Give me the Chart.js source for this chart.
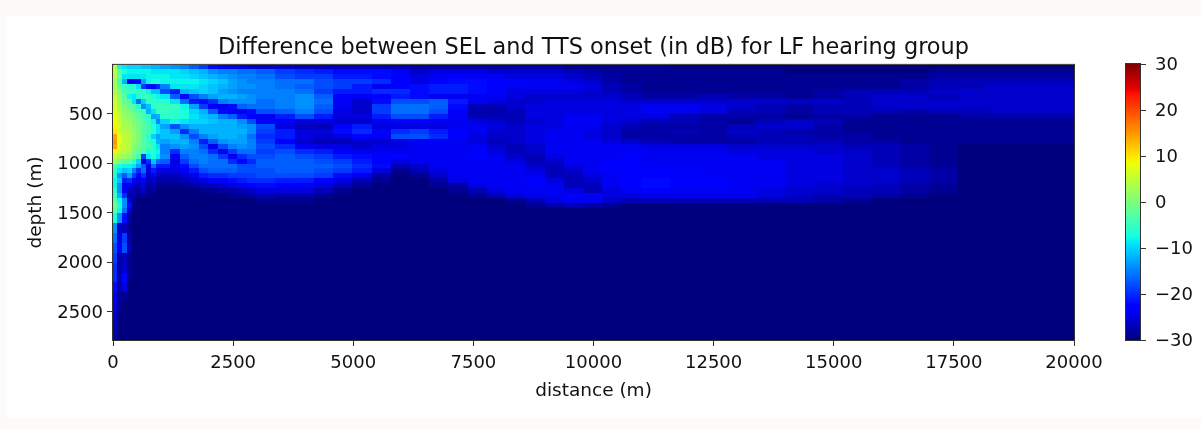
<!DOCTYPE html>
<html>
<head>
<meta charset="utf-8">
<script src="https://cdn.jsdelivr.net/npm/chart.js@4"></script>
<style>
  html, body { margin: 0; background: #fcfbf9; }
  #sheet { position: absolute; left: 6px; top: 16px; width: 1195px; height: 401px; background: #fff; }
  canvas { position: absolute; top: 0; }
</style>
</head>
<body>
<div id="sheet"></div>
<canvas id="mainChart" width="1187" height="429" style="left:0"></canvas>
<canvas id="barChart" width="91" height="429" style="left:1110px"></canvas>
<script>
// Cell edges, in metres. Columns get wider with range, rows get wider below 1510 m
const distEdges = [0,100,200,300,400,500,600,700,800,900,1000,1200,1400,1600,1800,2000,2200,2400,2600,2800,3000,
  3400,3800,4200,4600,5000,5400,5800,6200,6600,7000,7400,7800,8200,8600,9000,9400,9800,10200,10600,11000,
  11600,12200,12800,13400,14000,14600,15200,15800,16400,17000,17600,18200,18800,19400,20000];
const depthEdges = [10,60,110,160,210,260,310,360,410,460,510,560,610,660,710,760,810,860,910,960,1010,
  1060,1110,1160,1210,1260,1310,1360,1410,1460,1510,1610,1710,1810,1910,2010,2110,2210,2310,2410,2510,2610,2710,2785];
const distTicks = [0,2500,5000,7500,10000,12500,15000,17500,20000];
const depthTicks = [500,1000,1500,2000,2500];
const barTicks = [-30,-20,-10,0,10,20,30];

// Difference in dB, one list per depth row. Anything past the end of a list is the -30 floor
const row035 = [4,-8,-9,-10,-10,-10,-11,-11,-12,-12,-13,-14,-15,-17,-19,-22,-24,-25,-25,-26,-26,-26,-27,-27,-27,-27,-27,-27,-28,-28,-28,-28,-28,-28,-28,-28,-29,-29,-29,-29,-29];
const row085 = [5,-3,-7,-8,-8,-8,-8,-8,-9,-9,-9,-9,-10,-11,-12,-14,-15,-15,-16,-16,-17,-19,-20,-21,-22,-22,-22,-24,-26,-25,-25,-25,-26,-26,-26,-26,-27,-28,-29,-29,-29,-29,-29,-29,-29,-30,-30,-30,-30,-30,-29,-29,-29,-29,-29];
const row135 = [3,-2,-9,-9,-9,-9,-9,-8,-8,-8,-8,-9,-9,-10,-11,-12,-13,-14,-15,-15,-16,-18,-19,-19,-21,-21,-22,-23,-25,-24,-23,-24,-24,-25,-25,-25,-26,-27,-28,-29,-29,-29,-29,-29,-29,-29,-29,-29,-29,-29,-28,-28,-28,-28,-28];
const row185 = [2,-4,-12,-24,-24,-22,-13,-8,-7,-7,-8,-8,-8,-8,-9,-10,-11,-13,-14,-15,-15,-16,-16,-18,-19,-19,-20,-23,-25,-23,-22,-22,-23,-23,-24,-24,-25,-26,-28,-29,-29,-29,-29,-29,-29,-29,-29,-29,-29,-28,-27,-27,-27,-27,-27];
const row235 = [3,-2,-5,-6,-7,-9,-19,-22,-22,-20,-15,-9,-9,-9,-10,-11,-12,-13,-14,-14,-15,-16,-17,-18,-19,-21,-24,-23,-22,-21,-21,-22,-23,-24,-24,-24,-24,-25,-27,-28,-29,-29,-29,-29,-29,-29,-29,-29,-29,-28,-27,-27,-26,-26,-26];
const row285 = [3,0,-4,-5,-5,-5,-6,-8,-11,-11,-18,-21,-12,-11,-10,-11,-13,-14,-15,-15,-15,-15,-16,-19,-21,-21,-20,-20,-22,-21,-21,-22,-23,-25,-25,-25,-25,-26,-27,-28,-29,-29,-29,-29,-29,-29,-28,-27,-27,-27,-26,-26,-26,-26,-26];
const row335 = [5,1,-3,-8,-9,-7,-5,-5,-7,-8,-9,-17,-22,-18,-15,-13,-12,-12,-13,-14,-15,-15,-14,-17,-23,-24,-23,-21,-22,-24,-24,-24,-24,-25,-26,-26,-26,-26,-26,-27,-28,-28,-27,-28,-28,-29,-28,-27,-26,-26,-27,-26,-26,-26,-26];
const row385 = [6,2,-2,-3,-9,-16,-10,-6,-5,-6,-6,-9,-16,-21,-22,-20,-15,-14,-14,-14,-16,-15,-14,-16,-24,-26,-22,-18,-18,-17,-21,-24,-25,-26,-26,-25,-25,-25,-25,-26,-26,-26,-26,-26,-26,-26,-26,-27,-26,-26,-26,-26,-26,-26,-26];
const row435 = [6,3,0,-2,-3,-6,-14,-11,-6,-5,-5,-5,-8,-13,-19,-23,-24,-22,-17,-16,-16,-15,-14,-17,-24,-26,-19,-16,-16,-17,-22,-27,-27,-26,-25,-25,-25,-25,-25,-25,-24,-24,-25,-26,-27,-28,-27,-27,-26,-26,-26,-26,-26,-26,-26];
const row485 = [7,4,1,0,-2,-3,-5,-12,-9,-5,-5,-6,-7,-10,-12,-17,-22,-24,-24,-22,-18,-17,-15,-18,-25,-26,-19,-16,-16,-18,-23,-28,-28,-27,-25,-25,-25,-25,-25,-25,-24,-24,-25,-27,-27,-28,-27,-27,-27,-28,-27,-27,-26,-26,-26];
const row535 = [8,5,2,1,0,-2,-4,-6,-13,-12,-6,-6,-7,-9,-11,-12,-15,-17,-21,-23,-24,-21,-18,-21,-25,-25,-21,-18,-18,-21,-24,-27,-27,-27,-25,-25,-24,-24,-25,-25,-25,-27,-28,-28,-28,-29,-28,-28,-29,-29,-29,-28,-28,-28,-28];
const row585 = [8,5,3,2,0,-1,-3,-5,-8,-15,-10,-8,-9,-10,-10,-11,-12,-12,-14,-18,-23,-24,-25,-25,-26,-26,-24,-23,-23,-24,-24,-25,-26,-27,-26,-25,-24,-24,-25,-26,-27,-27,-28,-29,-27,-26,-27,-29,-29,-29,-29,-29,-29,-29,-29];
const row635 = [9,6,3,3,1,-1,-3,-4,-7,-9,-13,-18,-14,-12,-12,-12,-12,-12,-13,-14,-18,-25,-27,-27,-23,-21,-25,-25,-25,-25,-24,-24,-25,-26,-25,-25,-24,-24,-26,-27,-28,-28,-28,-27,-26,-26,-28,-29,-29,-29,-29,-29,-29,-29,-29];
const row685 = [10,6,4,3,2,0,-3,-4,-6,-9,-11,-13,-20,-15,-12,-12,-12,-12,-12,-14,-19,-21,-25,-25,-22,-20,-23,-20,-19,-21,-23,-24,-26,-26,-25,-24,-24,-25,-26,-28,-28,-27,-28,-26,-27,-28,-28,-29,-29,-29,-29,-29,-29,-29,-29];
const row735 = [14,7,5,4,2,0,-3,-6,-10,-13,-11,-11,-14,-18,-15,-13,-12,-12,-13,-16,-20,-21,-25,-26,-25,-23,-24,-18,-18,-20,-23,-25,-26,-26,-25,-24,-24,-25,-26,-28,-28,-28,-28,-27,-27,-27,-28,-28,-29,-29,-29,-29,-29,-29,-29];
const row785 = [15,8,5,4,2,0,-3,-5,-7,-12,-13,-12,-12,-15,-21,-17,-14,-13,-13,-15,-19,-23,-26,-27,-27,-26,-26,-25,-24,-24,-24,-25,-27,-26,-25,-24,-24,-24,-25,-26,-27,-28,-28,-28,-27,-27,-27,-28,-28,-29,-29,-29,-29,-29,-29];
const row835 = [14,7,5,4,1,-1,-3,-4,-6,-9,-15,-14,-13,-14,-18,-24,-18,-15,-14,-15,-18,-20,-24,-25,-25,-26,-25,-25,-24,-24,-24,-24,-26,-27,-26,-24,-24,-24,-24,-24,-25,-25,-25,-26,-26,-26,-26,-27,-27,-28,-29];
const row885 = [9,6,4,3,0,-2,-4,-7,-6,-8,-15,-20,-15,-15,-16,-20,-24,-19,-16,-16,-19,-18,-20,-21,-23,-24,-24,-24,-24,-24,-24,-23,-25,-27,-26,-24,-24,-24,-24,-24,-24,-24,-24,-25,-25,-25,-26,-26,-27,-28,-29];
const row935 = [5,3,2,1,-1,-4,-19,-9,-7,-9,-14,-24,-17,-15,-15,-16,-19,-24,-20,-18,-18,-17,-18,-19,-21,-22,-23,-23,-24,-24,-24,-23,-24,-26,-27,-25,-24,-24,-24,-23,-24,-24,-24,-24,-25,-25,-25,-26,-27,-28,-29];
const row985 = [3,-1,-2,-3,-5,-10,-25,-20,-11,-16,-17,-25,-19,-16,-15,-16,-16,-20,-23,-20,-17,-17,-17,-18,-19,-21,-23,-25,-24,-24,-24,-24,-24,-25,-27,-26,-24,-24,-23,-23,-24,-24,-24,-24,-24,-25,-25,-26,-27,-28,-29];
const row1035 = [-4,-7,-8,-8,-9,-13,-17,-24,-16,-21,-21,-24,-22,-18,-16,-16,-16,-16,-18,-18,-17,-17,-17,-17,-18,-20,-22,-27,-26,-24,-24,-24,-24,-24,-26,-27,-25,-24,-23,-23,-24,-24,-24,-24,-24,-25,-25,-26,-27,-28,-29];
const row1085 = [-6,-9,-11,-10,-15,-20,-16,-25,-21,-25,-25,-25,-23,-21,-18,-17,-17,-17,-18,-18,-18,-17,-17,-18,-19,-21,-25,-29,-27,-25,-24,-24,-24,-24,-25,-27,-26,-24,-23,-23,-23,-23,-24,-24,-24,-25,-25,-26,-26,-27,-28];
const row1135 = [-7,-14,-17,-13,-19,-23,-20,-26,-24,-27,-27,-27,-26,-24,-21,-20,-20,-19,-19,-19,-18,-18,-18,-19,-22,-24,-28,-30,-29,-26,-24,-24,-24,-24,-24,-27,-27,-25,-24,-23,-23,-24,-24,-24,-24,-25,-25,-26,-26,-27,-28];
const row1185 = [-8,-11,-21,-20,-24,-25,-23,-27,-26,-28,-28,-28,-27,-26,-25,-23,-23,-22,-21,-20,-20,-21,-21,-23,-25,-27,-29,-30,-30,-28,-25,-24,-24,-24,-23,-25,-27,-26,-24,-23,-22,-23,-23,-24,-24,-25,-25,-26,-26,-27,-28];
const row1235 = [-8,-14,-24,-24,-26,-27,-25,-28,-27,-29,-29,-29,-29,-28,-27,-27,-26,-25,-24,-23,-22,-23,-24,-25,-27,-29,-30,-30,-30,-29,-28,-25,-24,-24,-23,-24,-27,-27,-24,-23,-22,-23,-23,-24,-24,-25,-26,-26,-27,-28,-29];
const row1285 = [-6,-14,-24,-26,-27,-28,-26,-29,-28,-30,-30,-30,-30,-30,-29,-29,-28,-28,-27,-26,-25,-25,-25,-27,-29,-30,-30,-30,-30,-30,-29,-27,-25,-24,-24,-24,-25,-27,-25,-24,-23,-24,-24,-24,-25,-26,-26,-27,-27,-28,-29];
const row1335 = [-5,-12,-20,-28,-27,-29,-28,-30,-30,-30,-30,-30,-30,-30,-30,-30,-30,-29,-29,-28,-27,-28,-28,-29,-30,-30,-30,-30,-30,-30,-30,-29,-27,-25,-24,-24,-23,-24,-25,-25,-24,-24,-24,-24,-25,-26,-27,-27,-28,-29,-30];
const row1385 = [-3,-8,-14,-25,-29,-30,-30,-30,-30,-30,-30,-30,-30,-30,-30,-30,-30,-30,-30,-30,-29,-29,-29,-30,-30,-30,-30,-30,-30,-30,-30,-30,-30,-29,-27,-25,-24,-24,-26,-27,-27,-27,-27,-27,-27,-27,-28,-29];
const row1435 = [-1,-7,-14,-22,-29,-30,-30,-30,-30,-30,-30,-30,-30,-30,-30,-30,-30,-30,-30,-30,-30,-30,-30,-30,-30,-30,-30,-30,-30,-30,-30,-30,-30,-30,-29,-28,-27,-28,-29];
const row1485 = [-3,-8,-16,-25];
const row1560 = [-7,-14,-22,-28];
const row1660 = [-14,-26,-27,-29];
const row1760 = [-16,-25,-19,-28];
const row1860 = [-18,-24,-18,-27];
const row1960 = [-19,-28,-27,-29];
const row2060 = [-20,-28,-26,-29];
const row2160 = [-20,-27,-23,-29];
const row2260 = [-22,-28,-25];
const row2360 = [-24,-29,-29];
const row2460 = [-25,-29];
const row2560 = [-26];
const row2660 = [-27];
const row2750 = [-28];
const depthRows = [row035,row085,row135,row185,row235,row285,row335,row385,row435,row485,row535,row585,row635,row685,row735,
  row785,row835,row885,row935,row985,row1035,row1085,row1135,row1185,row1235,row1285,row1335,row1385,row1435,row1485,
  row1560,row1660,row1760,row1860,row1960,row2060,row2160,row2260,row2360,row2460,row2560,row2660,row2750];

// jet colormap
const jetPos = [0,.11,.125,.34,.35,.375,.64,.65,.66,.89,.91,1];
const jetRgb = [[0,0,127],[0,0,255],[0,0,255],[0,219,255],[0,230,247],[20,255,226],[239,255,8],[247,245,0],[255,236,0],[255,19,0],[232,0,0],[127,0,0]];
const vMin = -30, vMax = 30;

function jet(v) {
    const t = Math.min(1, Math.max(0, (v - vMin) / (vMax - vMin)));
    let i = 0;
    while (i < jetPos.length - 2 && t > jetPos[i + 1]) i++;
    const f = (t - jetPos[i]) / (jetPos[i + 1] - jetPos[i]);
    const c = jetRgb[i].map((a, k) => Math.round(a + (jetRgb[i + 1][k] - a) * f));
    return `rgb(${c[0]},${c[1]},${c[2]})`;
}

// Each cell is a scatter point whose point style is a small filled canvas the size of the cell
const cellCache = {};
function cellStyle(color, w, h) {
    const key = color + w + 'x' + h;
    if (!cellCache[key]) {
        const c = document.createElement('canvas');
        c.width = w;
        c.height = h;
        const g = c.getContext('2d');
        g.fillStyle = color;
        g.fillRect(0, 0, w, h);
        cellCache[key] = c;
    }
    return cellCache[key];
}

const cells = [];
depthRows.forEach((row, r) => {
    for (let c = 0; c < distEdges.length - 1; c++) {
        cells.push({
            x: (distEdges[c] + distEdges[c + 1]) / 2,
            y: (depthEdges[r] + depthEdges[r + 1]) / 2,
            v: c < row.length ? row[c] : vMin,
            col: c,
            row: r
        });
    }
});

const frame = {
    id: 'frame',
    afterDraw(chart) {
        const a = chart.chartArea, g = chart.ctx;
        g.save();
        g.strokeStyle = '#333';
        g.lineWidth = 1;
        g.strokeRect(a.left - 0.5, a.top - 0.5, a.width + 1, a.height + 1);
        g.restore();
    }
};

const tickFont = { family: 'DejaVu Sans', size: 18 };
const labelFont = { family: 'DejaVu Sans', size: 18.5 };
const axisGrid = { drawOnChartArea: false, color: '#333', tickLength: 6, tickWidth: 1 };

new Chart(document.getElementById('mainChart'), {
    type: 'scatter',
    data: {
        datasets: [{
            data: cells,
            pointRadius: 5,
            clip: 0,
            pointStyle(ctx) {
                const d = ctx.raw, xs = ctx.chart.scales.x, ys = ctx.chart.scales.y;
                const w = xs.getPixelForValue(distEdges[d.col + 1]) - xs.getPixelForValue(distEdges[d.col]);
                const h = ys.getPixelForValue(depthEdges[d.row + 1]) - ys.getPixelForValue(depthEdges[d.row]);
                return cellStyle(jet(d.v), Math.ceil(w) + 1, Math.ceil(h) + 1);
            }
        }]
    },
    plugins: [frame],
    options: {
        responsive: false,
        animation: false,
        events: [],
        layout: { padding: { right: 113 } },
        plugins: {
            legend: { display: false },
            tooltip: { enabled: false },
            title: {
                display: true,
                fullSize: false,
                text: 'Difference between SEL and TTS onset (in dB) for LF hearing group',
                color: '#111',
                font: { family: 'DejaVu Sans', size: 22.4, weight: 'normal' },
                padding: { top: 35, bottom: 3 }
            }
        },
        scales: {
            x: {
                type: 'linear',
                min: 0,
                max: 20000,
                grid: axisGrid,
                border: { color: '#333' },
                afterBuildTicks: s => { s.ticks = distTicks.map(v => ({ value: v })); },
                afterFit: s => { s.height = 89; },
                ticks: { color: '#111', font: tickFont, padding: 7, maxRotation: 0, autoSkip: false, callback: v => String(v) },
                title: { display: true, text: 'distance (m)', color: '#111', font: labelFont, padding: { top: 0, bottom: 27 } }
            },
            y: {
                type: 'linear',
                reverse: true,
                min: 10,
                max: 2785,
                grid: axisGrid,
                border: { color: '#333' },
                afterBuildTicks: s => { s.ticks = depthTicks.map(v => ({ value: v })); },
                afterFit: s => { s.width = 113; },
                ticks: { color: '#111', font: tickFont, padding: 4, labelOffset: 1.5, autoSkip: false, callback: v => String(v) },
                title: { display: true, text: 'depth (m)', color: '#111', font: labelFont, padding: { top: 25, bottom: 0 } }
            }
        }
    }
});

new Chart(document.getElementById('barChart'), {
    type: 'bar',
    data: {
        labels: [''],
        datasets: [{
            data: [[vMin, vMax]],
            barPercentage: 1,
            categoryPercentage: 1,
            backgroundColor(ctx) {
                const a = ctx.chart.chartArea;
                if (!a) return '#000';
                const grad = ctx.chart.ctx.createLinearGradient(0, a.bottom, 0, a.top);
                jetPos.forEach((p, i) => grad.addColorStop(p, `rgb(${jetRgb[i].join(',')})`));
                return grad;
            }
        }]
    },
    plugins: [frame],
    options: {
        responsive: false,
        animation: false,
        events: [],
        layout: { padding: { left: 16, top: 64, bottom: 89 } },
        plugins: { legend: { display: false }, tooltip: { enabled: false } },
        scales: {
            x: { display: false },
            y: {
                position: 'right',
                min: vMin,
                max: vMax,
                grid: axisGrid,
                border: { color: '#333' },
                afterBuildTicks: s => { s.ticks = barTicks.map(v => ({ value: v })); },
                afterFit: s => { s.width = 61; },
                ticks: { color: '#111', font: tickFont, padding: 9, labelOffset: 1.5, autoSkip: false, callback: v => String(v).replace('-', '\u2212') }
            }
        }
    }
});
</script>
</body>
</html>
